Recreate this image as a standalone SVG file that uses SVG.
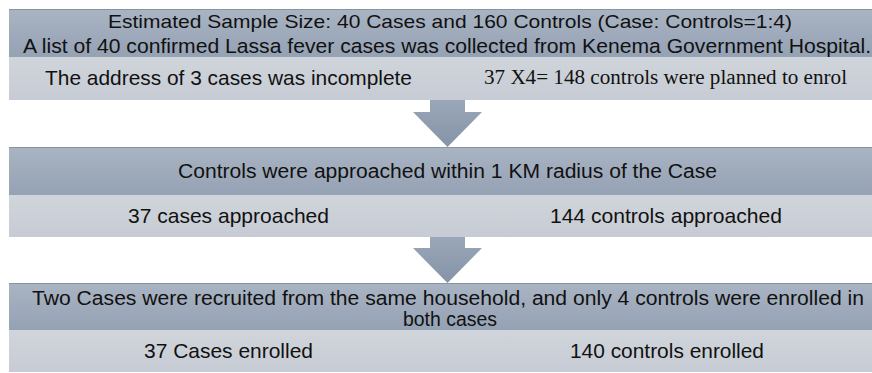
<svg xmlns="http://www.w3.org/2000/svg" width="872" height="373" viewBox="0 0 872 373">
<defs>
<linearGradient id="gDark" x1="0" y1="0" x2="0" y2="1">
<stop offset="0" stop-color="#a9b4c3"/>
<stop offset="1" stop-color="#95a2b4"/>
</linearGradient>
<linearGradient id="gLight" x1="0" y1="0" x2="0" y2="1">
<stop offset="0" stop-color="#d0d4db"/>
<stop offset="1" stop-color="#c7ccd4"/>
</linearGradient>
<linearGradient id="gArrow" x1="0" y1="0" x2="0" y2="1">
<stop offset="0" stop-color="#9aa7b8"/>
<stop offset="1" stop-color="#8493a7"/>
</linearGradient>
</defs>
<style>
.dark{fill:url(#gDark);}
.light{fill:url(#gLight);}
.edge{stroke:#8893a3;stroke-width:1;}
.t{font-family:"Liberation Sans",Arial,sans-serif;fill:#111;text-anchor:start;}
.s{font-family:"Liberation Serif","Times New Roman",serif;fill:#111;}
.arrow{fill:url(#gArrow);}
</style>
<rect width="872" height="373" fill="#ffffff"/>

<g id="box1">
<rect class="dark" x="9" y="9" width="863" height="48"/>
<line class="edge" x1="9" y1="9.5" x2="872" y2="9.5"/>
<rect class="light" x="9" y="57" width="863" height="43"/>
<text class="t" x="108" y="28" font-size="18.5" textLength="684" lengthAdjust="spacingAndGlyphs">Estimated Sample Size: 40 Cases and 160 Controls (Case: Controls=1:4)</text>
<text class="t" x="23" y="53" font-size="20.5" textLength="848" lengthAdjust="spacingAndGlyphs">A list of 40 confirmed Lassa fever cases was collected from Kenema Government Hospital.</text>
<text class="t" x="45" y="85" font-size="21" textLength="367" lengthAdjust="spacingAndGlyphs">The address of 3 cases was incomplete</text>
<text class="s" x="484" y="84" font-size="20" textLength="363" lengthAdjust="spacingAndGlyphs">37 X4= 148 controls were planned to enrol</text>
</g>

<g id="box2">
<rect class="dark" x="9" y="147" width="863" height="48"/>
<line class="edge" x1="9" y1="147.5" x2="872" y2="147.5"/>
<rect class="light" x="9" y="195" width="863" height="42"/>
<text class="t" x="178" y="178" font-size="20" textLength="539" lengthAdjust="spacingAndGlyphs">Controls were approached within 1 KM radius of the Case</text>
<text class="t" x="128" y="223" font-size="21" textLength="201" lengthAdjust="spacingAndGlyphs">37 cases approached</text>
<text class="t" x="550" y="223" font-size="21" textLength="232" lengthAdjust="spacingAndGlyphs">144 controls approached</text>
</g>

<g id="box3">
<rect class="dark" x="9" y="283" width="863" height="47"/>
<line class="edge" x1="9" y1="283.5" x2="872" y2="283.5"/>
<rect class="light" x="9" y="330" width="863" height="42"/>
<text class="t" x="32" y="305" font-size="20" textLength="832" lengthAdjust="spacingAndGlyphs">Two Cases were recruited from the same household, and only 4 controls were enrolled in</text>
<text class="t" x="403" y="326" font-size="20" textLength="94" lengthAdjust="spacingAndGlyphs">both cases</text>
<text class="t" x="144" y="358" font-size="21" textLength="169" lengthAdjust="spacingAndGlyphs">37 Cases enrolled</text>
<text class="t" x="570" y="358" font-size="21" textLength="194" lengthAdjust="spacingAndGlyphs">140 controls enrolled</text>
</g>

<g id="connectors">
<polygon class="arrow" points="430,100 465,100 465,112 482,112 447.5,147 413,112 430,112"/>
<polygon class="arrow" points="430,237 465,237 465,248 482,248 447.5,283 413,248 430,248"/>
</g>
</svg>
